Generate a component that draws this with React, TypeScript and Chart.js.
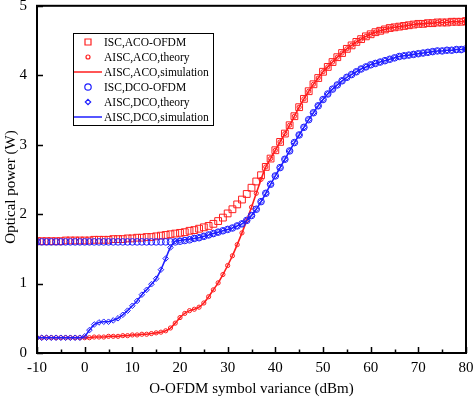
import React, { useEffect, useRef } from 'react';
import { Chart, registerables } from 'chart.js';

Chart.register(...registerables);

// O-OFDM symbol variance (dBm)
const xValues = [
  -10, -9, -8, -7, -6, -5, -4, -3, -2, -1,
  0, 1, 2, 3, 4, 5, 6, 7, 8, 9,
  10, 11, 12, 13, 14, 15, 16, 17, 18, 19,
  20, 21, 22, 23, 24, 25, 26, 27, 28, 29,
  30, 31, 32, 33, 34, 35, 36, 37, 38, 39,
  40, 41, 42, 43, 44, 45, 46, 47, 48, 49,
  50, 51, 52, 53, 54, 55, 56, 57, 58, 59,
  60, 61, 62, 63, 64, 65, 66, 67, 68, 69,
  70, 71, 72, 73, 74, 75, 76, 77, 78, 79, 80,
];

// ISC, ACO-OFDM
const iscAco = [
  1.61, 1.61, 1.61, 1.61, 1.61, 1.61, 1.62, 1.62, 1.62, 1.62,
  1.62, 1.62, 1.63, 1.63, 1.63, 1.63, 1.64, 1.64, 1.64, 1.65,
  1.65, 1.66, 1.66, 1.67, 1.67, 1.68, 1.69, 1.70, 1.71, 1.72,
  1.73, 1.74, 1.76, 1.77, 1.79, 1.81, 1.83, 1.86, 1.90, 1.95,
  2.01, 2.07, 2.14, 2.21, 2.29, 2.38, 2.47, 2.56, 2.68, 2.80,
  2.92, 3.04, 3.16, 3.28, 3.41, 3.54, 3.66, 3.77, 3.87, 3.96,
  4.05, 4.12, 4.19, 4.26, 4.32, 4.38, 4.43, 4.48, 4.52, 4.56,
  4.59, 4.62, 4.64, 4.66, 4.68, 4.69, 4.70, 4.71, 4.72, 4.73,
  4.74, 4.74, 4.75, 4.75, 4.76, 4.76, 4.76, 4.77, 4.77, 4.77, 4.78,
];

// AISC, ACO (theory and simulation)
const aiscAco = [
  0.22, 0.22, 0.22, 0.22, 0.22, 0.22, 0.22, 0.22, 0.22, 0.22,
  0.22, 0.22, 0.23, 0.23, 0.23, 0.24, 0.24, 0.24, 0.25, 0.25,
  0.26, 0.26, 0.27, 0.27, 0.28, 0.29, 0.30, 0.32, 0.36, 0.43,
  0.51, 0.57, 0.61, 0.63, 0.66, 0.72, 0.81, 0.91, 1.01, 1.13,
  1.26, 1.40, 1.56, 1.73, 1.91, 2.10, 2.30, 2.50, 2.68, 2.80,
  2.92, 3.04, 3.16, 3.28, 3.41, 3.54, 3.66, 3.77, 3.87, 3.96,
  4.05, 4.12, 4.19, 4.26, 4.32, 4.38, 4.43, 4.48, 4.52, 4.56,
  4.59, 4.62, 4.64, 4.66, 4.68, 4.69, 4.70, 4.71, 4.72, 4.73,
  4.74, 4.74, 4.75, 4.75, 4.76, 4.76, 4.76, 4.77, 4.77, 4.77, 4.78,
];

// ISC, DCO-OFDM
const iscDco = [
  1.60, 1.60, 1.60, 1.60, 1.60, 1.60, 1.60, 1.60, 1.60, 1.60,
  1.60, 1.60, 1.60, 1.60, 1.60, 1.60, 1.60, 1.60, 1.60, 1.60,
  1.60, 1.60, 1.60, 1.60, 1.60, 1.60, 1.60, 1.60, 1.60, 1.60,
  1.61, 1.62, 1.63, 1.65, 1.66, 1.68, 1.70, 1.72, 1.74, 1.76,
  1.78, 1.80, 1.83, 1.86, 1.91, 1.98, 2.07, 2.18, 2.30, 2.43,
  2.55, 2.67, 2.79, 2.91, 3.03, 3.14, 3.25, 3.36, 3.46, 3.56,
  3.65, 3.73, 3.80, 3.86, 3.92, 3.97, 4.01, 4.05, 4.09, 4.12,
  4.15, 4.17, 4.19, 4.21, 4.23, 4.25, 4.27, 4.28, 4.29, 4.30,
  4.31, 4.32, 4.33, 4.34, 4.35, 4.35, 4.36, 4.36, 4.37, 4.37, 4.38,
];

// AISC, DCO (theory and simulation)
const aiscDco = [
  0.22, 0.22, 0.22, 0.22, 0.22, 0.22, 0.22, 0.22, 0.22, 0.22,
  0.24, 0.33, 0.41, 0.44, 0.45, 0.45, 0.47, 0.50, 0.55, 0.61,
  0.68, 0.75, 0.84, 0.91, 0.99, 1.07, 1.20, 1.36, 1.52, 1.61,
  1.62, 1.63, 1.64, 1.65, 1.66, 1.68, 1.70, 1.72, 1.74, 1.76,
  1.78, 1.80, 1.83, 1.86, 1.91, 1.98, 2.07, 2.18, 2.30, 2.43,
  2.55, 2.67, 2.79, 2.91, 3.03, 3.14, 3.25, 3.36, 3.46, 3.56,
  3.65, 3.73, 3.80, 3.86, 3.92, 3.97, 4.01, 4.05, 4.09, 4.12,
  4.15, 4.17, 4.19, 4.21, 4.23, 4.25, 4.27, 4.28, 4.29, 4.30,
  4.31, 4.32, 4.33, 4.34, 4.35, 4.35, 4.36, 4.36, 4.37, 4.37, 4.38,
];

const legendLabels = [
  'ISC,ACO-OFDM',
  'AISC,ACO,theory',
  'AISC,ACO,simulation',
  'ISC,DCO-OFDM',
  'AISC,DCO,theory',
  'AISC,DCO,simulation',
];
const legendKinds = ['square', 'circleSmall', 'line', 'circle', 'diamond', 'line'];

const X_TITLE = 'O-OFDM symbol variance (dBm)';
const Y_TITLE = 'Optical power (W)';

const RED = '#ff1e1e';
const BLUE = '#1e1eff';
const FONT = '"Liberation Serif", "Times New Roman", serif';

function pts(ys: number[]) {
  return xValues.map((x, i) => ({ x, y: ys[i] }));
}

const decorPlugin = {
  id: 'decor',
  afterDraw(chart: any) {
    const { ctx, chartArea: a, scales } = chart;
    ctx.save();
    // frame
    ctx.strokeStyle = '#000';
    ctx.lineWidth = 2;
    ctx.strokeRect(a.left, a.top, a.right - a.left, a.bottom - a.top);
    // inward ticks
    ctx.lineWidth = 1.5;
    const xs = scales.x;
    const xt = xs.ticks.map((t: any) => t.value);
    ctx.beginPath();
    xt.forEach((v: number, i: number) => {
      const px = Math.round(xs.getPixelForValue(v)) + 0.5;
      ctx.moveTo(px, a.bottom);
      ctx.lineTo(px, a.bottom - 6);
      if (i < xt.length - 1) {
        const pm = Math.round(xs.getPixelForValue((v + xt[i + 1]) / 2)) + 0.5;
        ctx.moveTo(pm, a.bottom);
        ctx.lineTo(pm, a.bottom - 3.5);
      }
    });
    const ys = scales.y;
    ys.ticks.forEach((t: any) => {
      const py = Math.round(ys.getPixelForValue(t.value)) + 0.5;
      ctx.moveTo(a.left, py);
      ctx.lineTo(a.left + 6, py);
    });
    ctx.stroke();

    // y axis title
    ctx.save();
    ctx.translate(11, 187);
    ctx.rotate(-Math.PI / 2);
    ctx.font = `15px ${FONT}`;
    ctx.fillStyle = '#000';
    ctx.textAlign = 'center';
    ctx.textBaseline = 'middle';
    ctx.fillText(Y_TITLE, 0, 0);
    ctx.restore();

    // legend
    const bx = 73, by = 33, bw = 140, bh = 92;
    ctx.fillStyle = '#fff';
    ctx.fillRect(bx, by, bw, bh);
    ctx.strokeStyle = '#000';
    ctx.lineWidth = 1;
    ctx.strokeRect(bx + 0.5, by + 0.5, bw, bh);
    ctx.font = `11.5px ${FONT}`;
    ctx.textBaseline = 'middle';
    ctx.textAlign = 'left';
    legendLabels.forEach((label, i) => {
      const y = by + 9 + i * 15;
      const color = i < 3 ? RED : BLUE;
      const kind = legendKinds[i];
      const mx = 88;
      ctx.strokeStyle = color;
      ctx.lineWidth = 1.2;
      ctx.beginPath();
      if (kind === 'square') {
        ctx.rect(mx - 3, y - 3, 6, 6);
      } else if (kind === 'circle') {
        ctx.arc(mx, y, 3.2, 0, Math.PI * 2);
      } else if (kind === 'circleSmall') {
        ctx.arc(mx, y, 2, 0, Math.PI * 2);
      } else if (kind === 'diamond') {
        ctx.moveTo(mx, y - 2.7);
        ctx.lineTo(mx + 2.7, y);
        ctx.lineTo(mx, y + 2.7);
        ctx.lineTo(mx - 2.7, y);
        ctx.closePath();
      } else {
        ctx.lineWidth = 1.5;
        ctx.moveTo(bx + 1, y);
        ctx.lineTo(102, y);
      }
      ctx.stroke();
      ctx.fillStyle = '#000';
      ctx.fillText(label, 104, y + 0.5);
    });
    ctx.restore();
  },
};

export default function App() {
  const ref = useRef<HTMLCanvasElement | null>(null);
  useEffect(() => {
    if (!ref.current) return;
    const markerBase = {
      showLine: false,
      backgroundColor: 'rgba(0,0,0,0)',
      pointBackgroundColor: 'rgba(0,0,0,0)',
      pointBorderWidth: 1,
    };
    const lineBase = {
      showLine: true,
      pointRadius: 0,
      borderWidth: 1.6,
      tension: 0.3,
      backgroundColor: 'rgba(0,0,0,0)',
    };
    const chart = new Chart(ref.current, {
      type: 'scatter',
      data: {
        datasets: [
          { ...lineBase, label: legendLabels[5], data: pts(aiscDco), borderColor: BLUE, order: 0 },
          { ...markerBase, label: legendLabels[4], data: pts(aiscDco), borderColor: BLUE, pointBorderColor: BLUE, pointStyle: 'rectRot', pointRadius: 2.8, order: 1 },
          { ...markerBase, label: legendLabels[3], data: pts(iscDco), borderColor: BLUE, pointBorderColor: BLUE, pointStyle: 'circle', pointRadius: 3.3, order: 2 },
          { ...lineBase, label: legendLabels[2], data: pts(aiscAco), borderColor: RED, order: 3 },
          { ...markerBase, label: legendLabels[1], data: pts(aiscAco), borderColor: RED, pointBorderColor: RED, pointStyle: 'circle', pointRadius: 2.1, order: 4 },
          { ...markerBase, label: legendLabels[0], data: pts(iscAco), borderColor: RED, pointBorderColor: RED, pointStyle: 'rect', pointRadius: 4.8, order: 5 },
        ] as any,
      },
      options: {
        responsive: false,
        animation: false,
        devicePixelRatio: 1,
        layout: { padding: { top: 5, right: 8, bottom: 0, left: 0 } },
        plugins: { legend: { display: false }, tooltip: { enabled: false } },
        scales: {
          x: {
            type: 'linear',
            min: -10,
            max: 80,
            grid: { display: false, drawTicks: false },
            border: { display: false },
            ticks: { stepSize: 10, color: '#000', padding: 6, font: { family: FONT, size: 15 } },
            title: { display: true, text: X_TITLE, color: '#000', padding: { top: 0, bottom: 0 }, font: { family: FONT, size: 15, lineHeight: 1.2 } },
            afterFit(scale: any) {
              scale.height = 45;
              scale.paddingLeft = 0;
              scale.paddingRight = 0;
            },
          },
          y: {
            type: 'linear',
            min: 0,
            max: 5,
            grid: { display: false, drawTicks: false },
            border: { display: false },
            ticks: { stepSize: 1, color: '#000', padding: 10, font: { family: FONT, size: 15 } },
            title: { display: false, text: Y_TITLE },
            afterFit(scale: any) {
              scale.width = 37;
              scale.paddingTop = 0;
              scale.paddingBottom = 0;
            },
          },
        },
      } as any,
      plugins: [decorPlugin],
    });
    return () => chart.destroy();
  }, []);
  return (
    <div style={{ position: 'absolute', left: 0, top: 0, width: 474, height: 398, background: '#fff' }}>
      <canvas ref={ref} width={474} height={398} style={{ width: 474, height: 398, display: 'block' }} />
    </div>
  );
}
